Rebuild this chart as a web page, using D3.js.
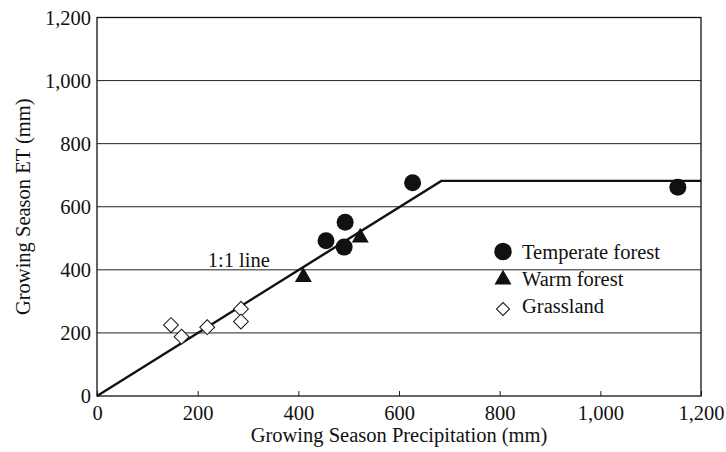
<!DOCTYPE html>
<html>
<head>
<meta charset="utf-8">
<script src="https://cdn.jsdelivr.net/npm/d3@7"></script>
<style>
  body { margin: 0; background: #fff; }
  svg { display: block; font-family: "Liberation Serif", "Times New Roman", serif; }
</style>
</head>
<body>
<svg id="chart"></svg>
<script>
// data (mm)
const temperateForest = [
  [455, 492], [493, 551], [491, 472], [627, 676], [1154, 662]
];
const warmForest = [
  [410, 377], [523, 502]
];
const grassland = [
  [147, 225], [168, 188], [219, 218], [286, 276], [286, 236]
];
const oneToOneLine = [[0, 0], [684, 682], [1200, 682]];
const xTicks = [0, 200, 400, 600, 800, 1000, 1200];
const yTicks = [0, 200, 400, 600, 800, 1000, 1200];
const legendLabels = ["Temperate forest", "Warm forest", "Grassland"];

const width = 726;
const height = 452;
const margin = { top: 17.5, right: 25, bottom: 56, left: 97 };
const fontSize = 20.5;

const svg = d3.select("#chart")
  .attr("width", width)
  .attr("height", height);

const x = d3.scaleLinear()
  .domain([0, 1200])
  .range([margin.left, width - margin.right]);

const y = d3.scaleLinear()
  .domain([0, 1200])
  .range([height - margin.bottom, margin.top]);

const fmt = d3.format(",");

// horizontal grid lines
svg.append("g")
  .attr("stroke", "#222")
  .attr("stroke-width", 1)
  .selectAll("line")
  .data(yTicks.slice(1, -1))
  .join("line")
  .attr("x1", x(0))
  .attr("x2", x(1200))
  .attr("y1", d => y(d))
  .attr("y2", d => y(d));

// x axis: ticks point inward
const xAxis = svg.append("g")
  .attr("transform", `translate(0,${y(0)})`)
  .call(d3.axisBottom(x).tickValues(xTicks).tickFormat(fmt).tickSize(-5).tickPadding(9));
xAxis.select(".domain").remove();
xAxis.selectAll("line").attr("stroke", "#222");
xAxis.selectAll("text")
  .attr("font-size", fontSize)
  .attr("font-family", "Liberation Serif, serif")
  .attr("fill", "#111");

const yAxis = svg.append("g")
  .attr("transform", `translate(${x(0)},0)`)
  .call(d3.axisLeft(y).tickValues(yTicks).tickFormat(fmt).tickSize(0).tickPadding(6));
yAxis.select(".domain").remove();
yAxis.selectAll("text")
  .attr("font-size", fontSize)
  .attr("font-family", "Liberation Serif, serif")
  .attr("fill", "#111");

// frame
svg.append("rect")
  .attr("x", x(0))
  .attr("y", y(1200))
  .attr("width", x(1200) - x(0))
  .attr("height", y(0) - y(1200))
  .attr("fill", "none")
  .attr("stroke", "#111")
  .attr("stroke-width", 1.3);

// axis titles
svg.append("text")
  .attr("x", (x(0) + x(1200)) / 2)
  .attr("y", 442)
  .attr("text-anchor", "middle")
  .attr("font-size", fontSize)
  .attr("fill", "#111")
  .text("Growing Season Precipitation (mm)");

svg.append("text")
  .attr("transform", `translate(30,${(y(0) + y(1200)) / 2}) rotate(-90)`)
  .attr("text-anchor", "middle")
  .attr("font-size", fontSize)
  .attr("fill", "#111")
  .text("Growing Season ET (mm)");

// 1:1 line with plateau
svg.append("path")
  .datum(oneToOneLine)
  .attr("fill", "none")
  .attr("stroke", "#111")
  .attr("stroke-width", 2.4)
  .attr("d", d3.line().x(d => x(d[0])).y(d => y(d[1])));

svg.append("text")
  .attr("x", x(220))
  .attr("y", y(410))
  .attr("font-size", fontSize)
  .attr("fill", "#111")
  .text("1:1 line");

// markers
const circleSym = d3.symbol().type(d3.symbolCircle).size(227);
const triSym = d3.symbol().type(d3.symbolTriangle).size(125);
const diamondSym = d3.symbol().type(d3.symbolSquare).size(110);

svg.append("g")
  .selectAll("path")
  .data(grassland)
  .join("path")
  .attr("d", diamondSym)
  .attr("transform", d => `translate(${x(d[0])},${y(d[1])}) rotate(45)`)
  .attr("fill", "#fff")
  .attr("stroke", "#111")
  .attr("stroke-width", 1);

svg.append("g")
  .selectAll("path")
  .data(temperateForest)
  .join("path")
  .attr("d", circleSym)
  .attr("transform", d => `translate(${x(d[0])},${y(d[1])})`)
  .attr("fill", "#111");

svg.append("g")
  .selectAll("path")
  .data(warmForest)
  .join("path")
  .attr("d", triSym)
  .attr("transform", d => `translate(${x(d[0])},${y(d[1])})`)
  .attr("fill", "#111");

// legend
const legend = svg.append("g").attr("transform", "translate(503,259)");
const legendSyms = [
  { sym: d3.symbol().type(d3.symbolCircle).size(240), dy: -7.5, rot: 0, fill: "#111", stroke: "none" },
  { sym: d3.symbol().type(d3.symbolTriangle).size(125), dy: -6.5, rot: 0, fill: "#111", stroke: "none" },
  { sym: d3.symbol().type(d3.symbolSquare).size(85), dy: -4, rot: 45, fill: "#fff", stroke: "#111" }
];
legendLabels.forEach((label, i) => {
  const g = legend.append("g").attr("transform", `translate(0,${i * 27})`);
  const s = legendSyms[i];
  g.append("path")
    .attr("d", s.sym)
    .attr("transform", `translate(0,${s.dy}) rotate(${s.rot})`)
    .attr("fill", s.fill)
    .attr("stroke", s.stroke)
    .attr("stroke-width", 1);
  g.append("text")
    .attr("x", 19)
    .attr("y", 0)
    .attr("font-size", fontSize)
    .attr("fill", "#111")
    .text(label);
});
</script>
</body>
</html>
